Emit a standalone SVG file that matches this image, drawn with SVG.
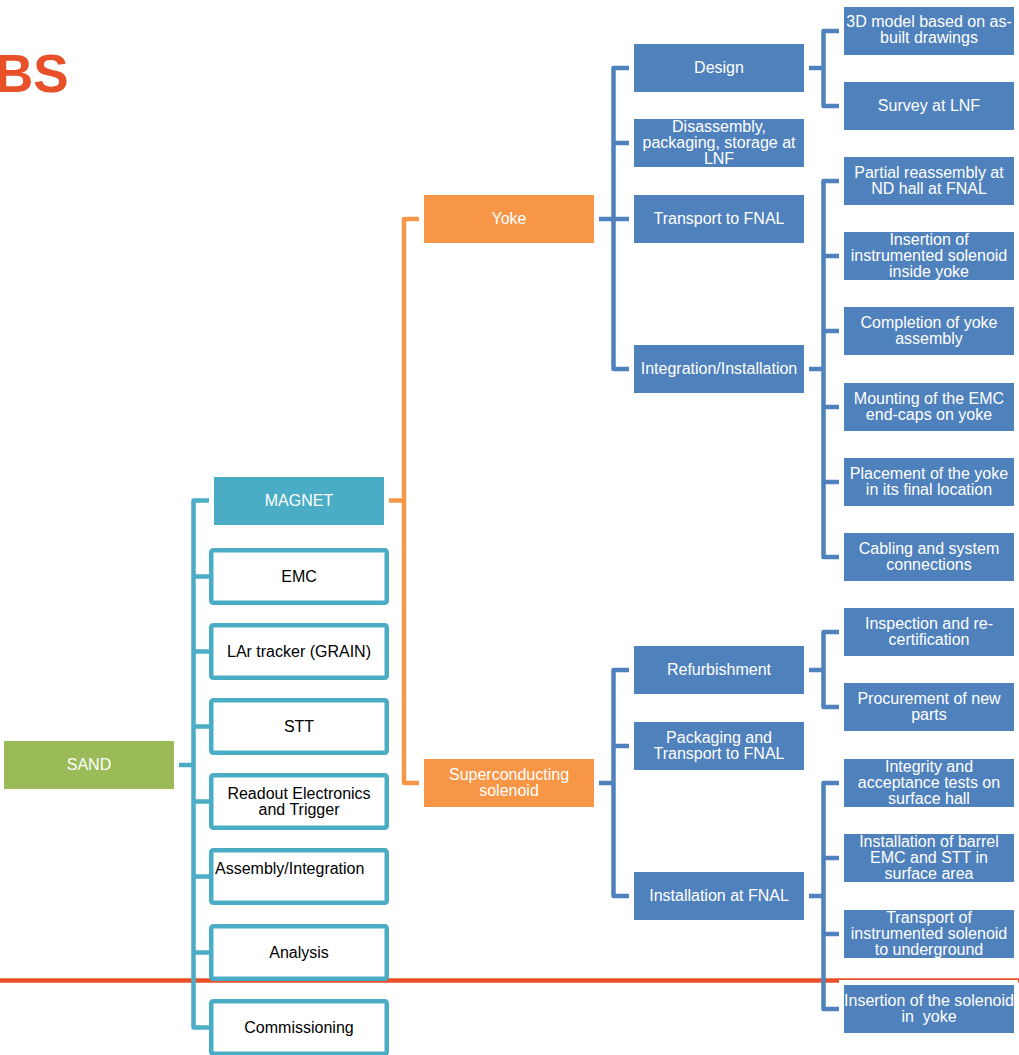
<svg xmlns="http://www.w3.org/2000/svg" width="1019" height="1055" viewBox="0 0 1019 1055">
  <style>
    text { font-family: "Liberation Sans", Arial, sans-serif; font-size: 16px; text-anchor: middle; }
    .lt { fill: #ffffff; }
    .dk { fill: #000000; }
    .green { fill: #9BBB59; }
    .teal { fill: #4BACC6; }
    .orange { fill: #F79646; }
    .blue { fill: #4F81BD; }
    .wbox { fill: #ffffff; stroke: #4BACC6; stroke-width: 4.5; }
    .c-teal { fill: none; stroke: #4BACC6; stroke-width: 4.5; stroke-linejoin: round; }
    .c-orange { fill: none; stroke: #F79646; stroke-width: 4.5; stroke-linejoin: round; }
    .c-blue { fill: none; stroke: #4F81BD; stroke-width: 4.5; stroke-linejoin: round; }
    .title { font-size: 53px; font-weight: bold; fill: #E8502A; text-anchor: start; }
  </style>

  <rect width="1019" height="1055" fill="#ffffff"/>

  <!-- heading -->
  <text class="title" x="-5" y="92">BS</text>

  <!-- separator rule -->
  <line x1="0" y1="980.5" x2="1019" y2="980.5" stroke="#E8502A" stroke-width="4.5"/>

  <g id="connectors">
    <!-- SAND to its children -->
    <path class="c-teal" d="M179,765 H193.5"/>
    <path class="c-teal" d="M209,500.5 H193.5 V1027.5 H209 M193.5,576.5 H209 M193.5,651.5 H209 M193.5,726.5 H209 M193.5,801.5 H209 M193.5,876.5 H209 M193.5,952.5 H209"/>
    <!-- MAGNET to Yoke / Superconducting solenoid -->
    <path class="c-orange" d="M389,500.5 H404"/>
    <path class="c-orange" d="M419,219 H404 V783 H419"/>
    <!-- Yoke to its tasks -->
    <path class="c-blue" d="M599,219 H629 M629,68 H613.5 V369 H629 M613.5,143 H629"/>
    <!-- Design -->
    <path class="c-blue" d="M809,68 H823.5 M839,31 H823.5 V106 H839"/>
    <!-- Integration/Installation -->
    <path class="c-blue" d="M809,369 H823.5 M839,181 H823.5 V557 H839 M823.5,256 H839 M823.5,331 H839 M823.5,407 H839 M823.5,482 H839"/>
    <!-- Superconducting solenoid to its tasks -->
    <path class="c-blue" d="M599,783 H613.5 M629,670 H613.5 V896 H629 M613.5,746 H629"/>
    <!-- Refurbishment -->
    <path class="c-blue" d="M809,670 H823.5 M839,632 H823.5 V707 H839"/>
    <!-- Installation at FNAL -->
    <path class="c-blue" d="M809,896 H823.5 M839,783 H823.5 V1009 H839 M823.5,858 H839 M823.5,934 H839"/>
  </g>

  <!-- level 0 -->
  <g id="sand">
    <rect class="green" x="4" y="741" width="170" height="48"/>
    <text class="lt" x="89" y="770">SAND</text>
  </g>

  <!-- level 1 -->
  <g id="magnet">
    <rect class="teal" x="214" y="477" width="170" height="48"/>
    <text class="lt" x="299" y="506">MAGNET</text>
  </g>
  <g id="emc">
    <rect class="wbox" x="211.25" y="550.25" width="175.5" height="52.5" rx="2"/>
    <text class="dk" x="299" y="582">EMC</text>
  </g>
  <g id="lar-tracker">
    <rect class="wbox" x="211.25" y="625.25" width="175.5" height="52.5" rx="2"/>
    <text class="dk" x="299" y="657">LAr tracker (GRAIN)</text>
  </g>
  <g id="stt">
    <rect class="wbox" x="211.25" y="700.25" width="175.5" height="52.5" rx="2"/>
    <text class="dk" x="299" y="732">STT</text>
  </g>
  <g id="readout">
    <rect class="wbox" x="211.25" y="775.25" width="175.5" height="52.5" rx="2"/>
    <text class="dk" x="299" y="799">Readout Electronics</text>
    <text class="dk" x="299" y="815">and Trigger</text>
  </g>
  <g id="assembly">
    <rect class="wbox" x="211.25" y="850.25" width="175.5" height="52.5" rx="2"/>
    <text class="dk" x="215" y="874" style="text-anchor:start">Assembly/Integration</text>
  </g>
  <g id="analysis">
    <rect class="wbox" x="211.25" y="926.25" width="175.5" height="52.5" rx="2"/>
    <text class="dk" x="299" y="958">Analysis</text>
  </g>
  <g id="commissioning">
    <rect class="wbox" x="211.25" y="1001.25" width="175.5" height="52.5" rx="2"/>
    <text class="dk" x="299" y="1033">Commissioning</text>
  </g>

  <!-- level 2 -->
  <g id="yoke">
    <rect class="orange" x="424" y="195" width="170" height="48"/>
    <text class="lt" x="509" y="224">Yoke</text>
  </g>
  <g id="solenoid">
    <rect class="orange" x="424" y="759" width="170" height="48"/>
    <text class="lt" x="509" y="780">Superconducting</text>
    <text class="lt" x="509" y="796">solenoid</text>
  </g>

  <!-- level 3: yoke tasks -->
  <g id="design">
    <rect class="blue" x="634" y="44" width="170" height="48"/>
    <text class="lt" x="719" y="73">Design</text>
  </g>
  <g id="disassembly">
    <rect class="blue" x="634" y="119" width="170" height="48"/>
    <text class="lt" x="719" y="132">Disassembly,</text>
    <text class="lt" x="719" y="148">packaging, storage at</text>
    <text class="lt" x="719" y="164">LNF</text>
  </g>
  <g id="transport-yoke">
    <rect class="blue" x="634" y="195" width="170" height="48"/>
    <text class="lt" x="719" y="224">Transport to FNAL</text>
  </g>
  <g id="integration">
    <rect class="blue" x="634" y="345" width="170" height="48"/>
    <text class="lt" x="719" y="374">Integration/Installation</text>
  </g>

  <!-- level 3: solenoid tasks -->
  <g id="refurbishment">
    <rect class="blue" x="634" y="646" width="170" height="48"/>
    <text class="lt" x="719" y="675">Refurbishment</text>
  </g>
  <g id="packaging">
    <rect class="blue" x="634" y="722" width="170" height="48"/>
    <text class="lt" x="719" y="743">Packaging and</text>
    <text class="lt" x="719" y="759">Transport to FNAL</text>
  </g>
  <g id="installation-fnal">
    <rect class="blue" x="634" y="872" width="170" height="48"/>
    <text class="lt" x="719" y="901">Installation at FNAL</text>
  </g>

  <!-- level 4 -->
  <g id="model-3d">
    <rect class="blue" x="844" y="7" width="170" height="48"/>
    <text class="lt" x="929" y="27">3D model based on as-</text>
    <text class="lt" x="929" y="43">built drawings</text>
  </g>
  <g id="survey">
    <rect class="blue" x="844" y="82" width="170" height="48"/>
    <text class="lt" x="929" y="111">Survey at LNF</text>
  </g>
  <g id="partial-reassembly">
    <rect class="blue" x="844" y="157" width="170" height="48"/>
    <text class="lt" x="929" y="178">Partial reassembly at</text>
    <text class="lt" x="929" y="194">ND hall at FNAL</text>
  </g>
  <g id="insertion-instrumented">
    <rect class="blue" x="844" y="232" width="170" height="48"/>
    <text class="lt" x="929" y="245">Insertion of</text>
    <text class="lt" x="929" y="261">instrumented solenoid</text>
    <text class="lt" x="929" y="277">inside yoke</text>
  </g>
  <g id="completion">
    <rect class="blue" x="844" y="307" width="170" height="48"/>
    <text class="lt" x="929" y="328">Completion of yoke</text>
    <text class="lt" x="929" y="344">assembly</text>
  </g>
  <g id="mounting">
    <rect class="blue" x="844" y="383" width="170" height="48"/>
    <text class="lt" x="929" y="404">Mounting of the EMC</text>
    <text class="lt" x="929" y="420">end-caps on yoke</text>
  </g>
  <g id="placement">
    <rect class="blue" x="844" y="458" width="170" height="48"/>
    <text class="lt" x="929" y="479">Placement of the yoke</text>
    <text class="lt" x="929" y="495">in its final location</text>
  </g>
  <g id="cabling">
    <rect class="blue" x="844" y="533" width="170" height="48"/>
    <text class="lt" x="929" y="554">Cabling and system</text>
    <text class="lt" x="929" y="570">connections</text>
  </g>
  <g id="inspection">
    <rect class="blue" x="844" y="608" width="170" height="48"/>
    <text class="lt" x="929" y="629">Inspection and re-</text>
    <text class="lt" x="929" y="645">certification</text>
  </g>
  <g id="procurement">
    <rect class="blue" x="844" y="683" width="170" height="48"/>
    <text class="lt" x="929" y="704">Procurement of new</text>
    <text class="lt" x="929" y="720">parts</text>
  </g>
  <g id="integrity-tests">
    <rect class="blue" x="844" y="759" width="170" height="48"/>
    <text class="lt" x="929" y="772">Integrity and</text>
    <text class="lt" x="929" y="788">acceptance tests on</text>
    <text class="lt" x="929" y="804">surface hall</text>
  </g>
  <g id="barrel-installation">
    <rect class="blue" x="844" y="834" width="170" height="48"/>
    <text class="lt" x="929" y="847">Installation of barrel</text>
    <text class="lt" x="929" y="863">EMC and STT in</text>
    <text class="lt" x="929" y="879">surface area</text>
  </g>
  <g id="transport-underground">
    <rect class="blue" x="844" y="910" width="170" height="48"/>
    <text class="lt" x="929" y="923">Transport of</text>
    <text class="lt" x="929" y="939">instrumented solenoid</text>
    <text class="lt" x="929" y="955">to underground</text>
  </g>
  <g id="insertion-solenoid">
    <rect x="839" y="980" width="179" height="56" fill="#ffffff"/>
    <rect class="blue" x="844" y="985" width="170" height="48"/>
    <text class="lt" x="929" y="1006">Insertion of the solenoid</text>
    <text class="lt" x="929" y="1022" style="white-space:pre">in  yoke</text>
  </g>
</svg>
